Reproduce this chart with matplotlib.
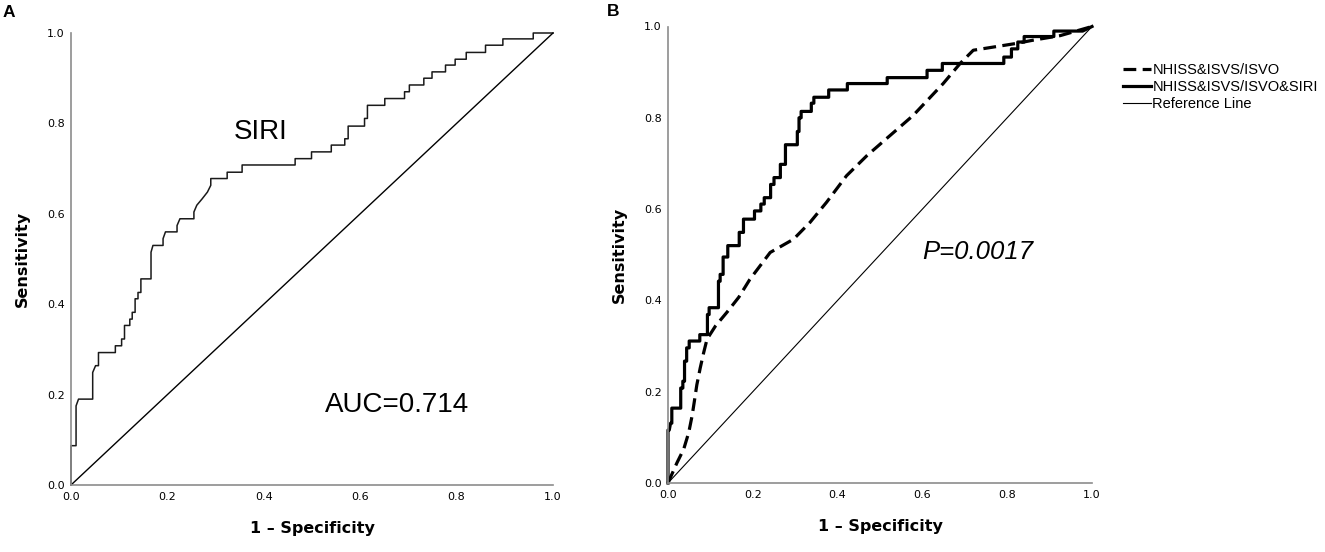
import matplotlib
matplotlib.use("Agg")
import matplotlib.pyplot as plt
from matplotlib import font_manager

# panel A: SIRI ROC curve (vertices of the step curve)
siri_fpr = [0, 0, 0.0105, 0.0105, 0.0156, 0.045, 0.045, 0.051, 0.057, 0.057,
            0.092, 0.092, 0.105, 0.105, 0.111, 0.111, 0.122, 0.122, 0.127, 0.127,
            0.133, 0.133, 0.139, 0.139, 0.145, 0.145, 0.166, 0.166, 0.17, 0.191,
            0.191, 0.196, 0.22, 0.22, 0.226, 0.255, 0.255, 0.261, 0.272, 0.283,
            0.29, 0.29, 0.324, 0.324, 0.355, 0.355, 0.465, 0.465, 0.499, 0.499,
            0.54, 0.54, 0.568, 0.568, 0.575, 0.575, 0.609, 0.609, 0.615, 0.615,
            0.651, 0.651, 0.692, 0.692, 0.702, 0.702, 0.732, 0.732, 0.749, 0.749,
            0.777, 0.777, 0.797, 0.797, 0.82, 0.82, 0.86, 0.86, 0.896, 0.896,
            0.959, 0.959, 1.0]
siri_tpr = [0, 0.087, 0.087, 0.175, 0.19, 0.19, 0.249, 0.264, 0.264, 0.293,
            0.293, 0.308, 0.308, 0.323, 0.323, 0.353, 0.353, 0.367, 0.367, 0.382,
            0.382, 0.412, 0.412, 0.426, 0.426, 0.456, 0.456, 0.515, 0.53, 0.53,
            0.545, 0.56, 0.56, 0.574, 0.589, 0.589, 0.604, 0.619, 0.633, 0.648,
            0.663, 0.678, 0.678, 0.692, 0.692, 0.708, 0.708, 0.722, 0.722, 0.737,
            0.737, 0.752, 0.752, 0.766, 0.766, 0.794, 0.794, 0.811, 0.811, 0.84,
            0.84, 0.855, 0.855, 0.87, 0.87, 0.885, 0.885, 0.9, 0.9, 0.914,
            0.914, 0.929, 0.929, 0.942, 0.942, 0.957, 0.957, 0.973, 0.973, 0.987,
            0.987, 1.0, 1.0]

# panel B: combined model (solid)
comb_fpr = [0, 0, 0.003, 0.006, 0.009, 0.009, 0.03, 0.03, 0.035, 0.035,
            0.039, 0.039, 0.044, 0.044, 0.05, 0.05, 0.075, 0.075, 0.093, 0.093,
            0.097, 0.097, 0.119, 0.119, 0.123, 0.123, 0.13, 0.13, 0.141, 0.141,
            0.168, 0.168, 0.178, 0.178, 0.204, 0.204, 0.219, 0.219, 0.227, 0.227,
            0.242, 0.242, 0.25, 0.25, 0.265, 0.265, 0.277, 0.277, 0.305, 0.305,
            0.309, 0.309, 0.314, 0.314, 0.338, 0.338, 0.344, 0.344, 0.379, 0.379,
            0.423, 0.423, 0.517, 0.517, 0.611, 0.611, 0.647, 0.647, 0.792, 0.792,
            0.81, 0.81, 0.825, 0.825, 0.84, 0.84, 0.91, 0.91, 0.978, 1.0]
comb_tpr = [0, 0.116, 0.116, 0.131, 0.131, 0.164, 0.164, 0.208, 0.208, 0.223,
            0.223, 0.267, 0.267, 0.296, 0.296, 0.311, 0.311, 0.325, 0.325, 0.369,
            0.369, 0.384, 0.384, 0.442, 0.442, 0.457, 0.457, 0.495, 0.495, 0.52,
            0.52, 0.549, 0.549, 0.578, 0.578, 0.596, 0.596, 0.611, 0.611, 0.625,
            0.625, 0.654, 0.654, 0.669, 0.669, 0.698, 0.698, 0.741, 0.741, 0.77,
            0.77, 0.8, 0.8, 0.814, 0.814, 0.832, 0.832, 0.845, 0.845, 0.861,
            0.861, 0.875, 0.875, 0.888, 0.888, 0.904, 0.904, 0.919, 0.919, 0.933,
            0.933, 0.951, 0.951, 0.966, 0.966, 0.978, 0.978, 0.99, 0.99, 1.0]

# panel B: base model (dashed)
base_fpr = [0, 0.021, 0.037, 0.049, 0.057, 0.062, 0.068, 0.076, 0.084, 0.092,
            0.112, 0.139, 0.167, 0.193, 0.241, 0.296, 0.335, 0.374, 0.421, 0.469,
            0.578, 0.649, 0.689, 0.72, 0.822, 0.861, 0.925, 1.0]
base_tpr = [0, 0.044, 0.074, 0.111, 0.148, 0.178, 0.215, 0.252, 0.285, 0.315,
            0.344, 0.374, 0.407, 0.446, 0.505, 0.534, 0.571, 0.615, 0.673, 0.717,
            0.805, 0.875, 0.919, 0.948, 0.963, 0.97, 0.98, 1.0]

ref_line = [0, 1]
ticks = [0.0, 0.2, 0.4, 0.6, 0.8, 1.0]
tick_labels = ["0.0", "0.2", "0.4", "0.6", "0.8", "1.0"]
legend_labels = ["NHISS&ISVS/ISVO", "NHISS&ISVS/ISVO&SIRI", "Reference Line"]

try:
    font_manager.findfont("Liberation Sans Narrow", fallback_to_default=False)
    leg_font, leg_size = "Liberation Sans Narrow", 12
except ValueError:
    leg_font, leg_size = "Liberation Sans", 10.5

W, H = 1325, 552
fig = plt.figure(figsize=(W / 100, H / 100), dpi=100)
axA = fig.add_axes([71 / W, 1 - 485 / H, 482 / W, 452 / H])
axB = fig.add_axes([668 / W, 1 - 483 / H, 424 / W, 456.5 / H])


def style_axes(ax, wpx, hpx):
    ax.set_xlim(0, 1)
    ax.set_ylim(0, 1)
    for s in ["top", "right"]:
        ax.spines[s].set_visible(False)
    for s in ["left", "bottom"]:
        ax.spines[s].set_color("#8c8c8c")
        ax.spines[s].set_linewidth(1.2)
    ax.set_xticks(ticks)
    ax.set_xticklabels(tick_labels)
    ax.set_yticks(ticks)
    ax.set_yticklabels(tick_labels)
    ax.tick_params(axis="both", length=0, labelsize=8, colors="black")
    ax.tick_params(axis="x", pad=5)
    ax.tick_params(axis="y", pad=4.5)
    ax.set_xlabel("1 \u2013 Specificity", fontsize=11.5, fontweight="bold", va="center")
    ax.set_ylabel("Sensitivity", fontsize=11.5, fontweight="bold", va="center")
    ax.xaxis.set_label_coords(0.5, -43 / hpx)
    ax.yaxis.set_label_coords(-49 / wpx, 0.5)


style_axes(axA, 482, 452)
style_axes(axB, 424, 456.5)

# panel A
axA.plot(siri_fpr, siri_tpr, color="#1a1a1a", lw=1.1, clip_on=False)
axA.plot(ref_line, ref_line, color="black", lw=1.0, clip_on=False)
axA.text(0.393, 0.781, "SIRI", fontsize=20, family="Liberation Sans",
         ha="center", va="center", transform=axA.transAxes)
axA.text(0.677, 0.176, "AUC=0.714", fontsize=20, family="Liberation Sans",
         ha="center", va="center", transform=axA.transAxes)

# panel B
axB.plot(base_fpr, base_tpr, color="black", lw=2.3, dashes=(4, 2),
         label=legend_labels[0], clip_on=False)
axB.plot(comb_fpr, comb_tpr, color="black", lw=2.3,
         label=legend_labels[1], clip_on=False)
axB.plot(ref_line, ref_line, color="black", lw=0.8,
         label=legend_labels[2], clip_on=False)
axB.text(0.731, 0.506, "P=0.0017", fontsize=18.5, family="Liberation Sans",
         style="italic", ha="center", va="center", transform=axB.transAxes)

fig.legend(loc="upper left", bbox_to_anchor=(1123 / W, 1 - 63 / H),
           frameon=False, borderpad=0, borderaxespad=0,
           handlelength=1.9, handletextpad=0.12, labelspacing=0.22,
           prop={"family": leg_font, "size": leg_size})

fig.text(3 / W, 1 - 12.5 / H, "A", fontsize=12.5, fontweight="bold",
         family="Liberation Sans", ha="left", va="center")
fig.text(607 / W, 1 - 12 / H, "B", fontsize=12.5, fontweight="bold",
         family="Liberation Sans", ha="left", va="center")

fig.savefig("out.png", dpi=100)
